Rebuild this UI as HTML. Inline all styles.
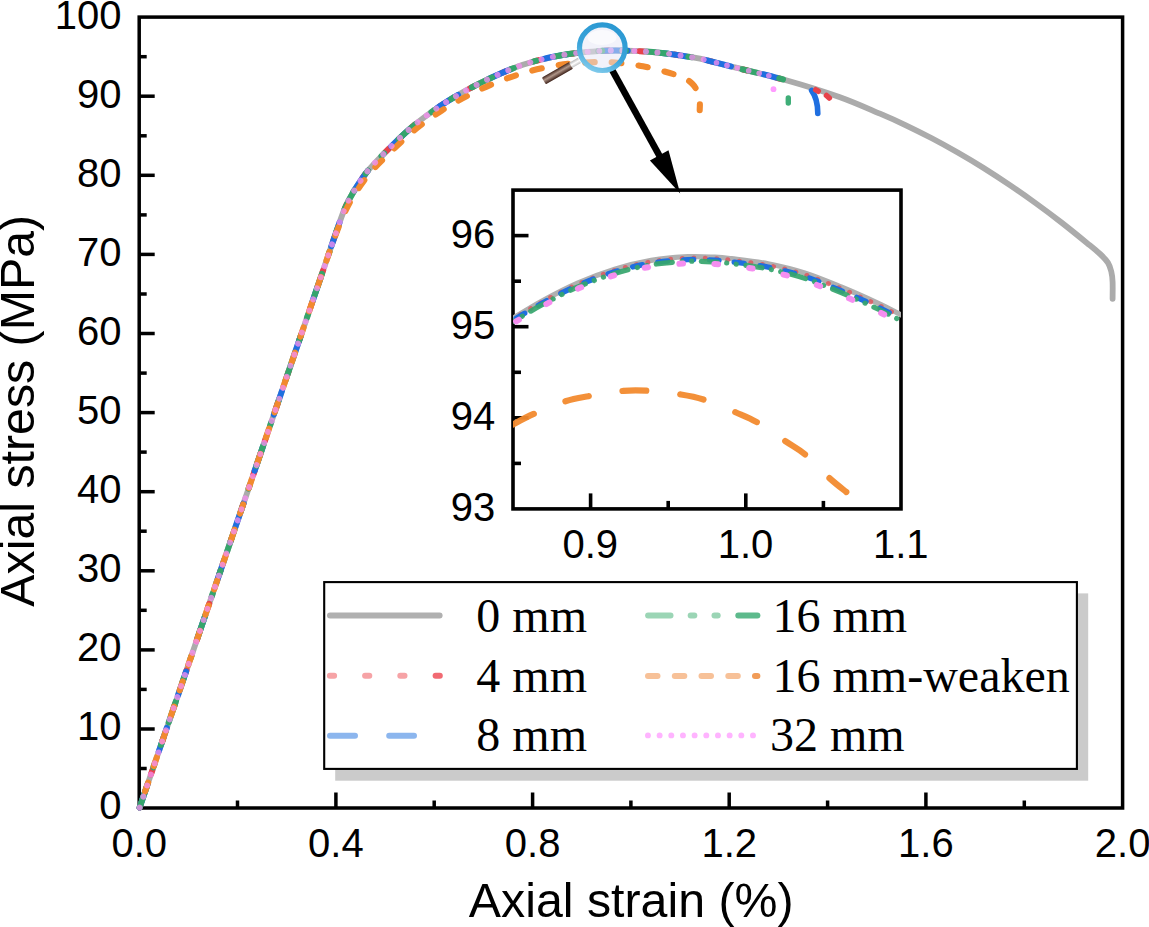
<!DOCTYPE html>
<html><head><meta charset="utf-8"><title>Axial stress-strain</title>
<style>html,body{margin:0;padding:0;background:#fff;}svg{display:block;}text{font-family:"Liberation Sans",sans-serif;fill:#000;}.ser{font-family:"Liberation Serif",serif;}</style></head>
<body>
<svg width="1149" height="927" viewBox="0 0 1149 927">
<rect width="1149" height="927" fill="#fff"/>
<defs><clipPath id="mc"><rect x="135.2" y="17.1" width="987.4" height="794.9"/></clipPath>
<clipPath id="ic"><rect x="513.0" y="190.1" width="388.0" height="318.8"/></clipPath>
<linearGradient id="hg" x1="0" y1="0" x2="0" y2="1"><stop offset="0" stop-color="#40241b"/><stop offset="0.45" stop-color="#b09689"/><stop offset="1" stop-color="#3c2018"/></linearGradient>
<linearGradient id="ng" x1="0" y1="0" x2="0" y2="1"><stop offset="0" stop-color="#b8b8b8"/><stop offset="0.5" stop-color="#ffffff"/><stop offset="1" stop-color="#c0c0c0"/></linearGradient>
<linearGradient id="rg" x1="0.7" y1="0" x2="0.3" y2="1"><stop offset="0" stop-color="#2a98d2"/><stop offset="0.6" stop-color="#3aa4da"/><stop offset="1" stop-color="#7cc8ea"/></linearGradient>
</defs>
<g stroke="#000" stroke-width="3.5" fill="none" stroke-linecap="butt">
<rect x="139.2" y="17.1" width="983.4" height="790.9"/>
<path d="M139.2 768.5 h7.5"/>
<path d="M139.2 729.0 h15.5"/>
<path d="M139.2 689.4 h7.5"/>
<path d="M139.2 649.9 h15.5"/>
<path d="M139.2 610.3 h7.5"/>
<path d="M139.2 570.8 h15.5"/>
<path d="M139.2 531.2 h7.5"/>
<path d="M139.2 491.7 h15.5"/>
<path d="M139.2 452.1 h7.5"/>
<path d="M139.2 412.6 h15.5"/>
<path d="M139.2 373.1 h7.5"/>
<path d="M139.2 333.5 h15.5"/>
<path d="M139.2 294.0 h7.5"/>
<path d="M139.2 254.4 h15.5"/>
<path d="M139.2 214.9 h7.5"/>
<path d="M139.2 175.3 h15.5"/>
<path d="M139.2 135.8 h7.5"/>
<path d="M139.2 96.2 h15.5"/>
<path d="M139.2 56.7 h7.5"/>
<path d="M237.5 808.0 v-7.5"/>
<path d="M335.9 808.0 v-15.5"/>
<path d="M434.2 808.0 v-7.5"/>
<path d="M532.6 808.0 v-15.5"/>
<path d="M630.9 808.0 v-7.5"/>
<path d="M729.2 808.0 v-15.5"/>
<path d="M827.6 808.0 v-7.5"/>
<path d="M925.9 808.0 v-15.5"/>
<path d="M1024.3 808.0 v-7.5"/>
</g>
<g fill="none" stroke-linecap="round" stroke-linejoin="round">
<path d="M139.6 807.6 C149.7 778.1 178.3 694.4 200.0 630.8 C221.7 567.2 250.0 484.5 270.0 425.9 C290.0 367.4 309.3 310.8 320.0 279.6 C330.7 248.3 329.9 250.3 334.0 238.6 C338.1 226.9 341.1 217.3 344.4 209.5 C347.7 201.7 349.9 197.8 353.6 191.6 C357.4 185.3 361.9 178.3 366.9 172.0 C371.9 165.7 376.2 161.4 383.6 154.0 C391.0 146.6 402.1 135.4 411.4 127.5 C420.7 119.6 430.0 112.9 439.3 106.6 C448.6 100.3 457.8 95.0 467.1 89.9 C476.4 84.8 485.7 80.2 495.0 76.0 C504.3 71.8 513.5 67.9 522.8 64.8 C532.1 61.7 541.4 59.3 550.7 57.3 C560.0 55.3 570.4 53.8 578.6 52.8 C586.8 51.8 593.8 51.4 600.0 51.0 C606.2 50.6 608.9 50.5 615.6 50.5 C622.3 50.5 632.6 50.8 640.0 51.2 C647.4 51.6 653.3 52.1 660.0 52.8 C666.7 53.5 673.3 54.4 680.0 55.4 C686.7 56.4 690.9 56.7 700.0 58.7 C709.1 60.7 720.3 63.8 734.8 67.4 C749.3 71.0 769.6 75.6 787.0 80.5 C804.4 85.4 823.8 91.5 839.3 97.0 C854.8 102.5 868.9 109.0 880.0 113.7 C891.1 118.4 897.3 121.2 905.9 125.3 C914.5 129.4 923.2 133.8 931.8 138.3 C940.4 142.8 949.1 147.6 957.7 152.5 C966.3 157.4 975.0 162.6 983.6 168.0 C992.2 173.4 1000.9 179.1 1009.5 184.9 C1018.1 190.7 1026.8 196.8 1035.4 203.0 C1044.0 209.2 1052.7 215.7 1061.3 222.4 C1069.9 229.1 1080.7 237.9 1087.2 243.2 C1093.7 248.5 1096.6 250.8 1100.1 254.0 C1103.5 257.2 1106.0 259.7 1107.9 262.6 C1109.8 265.5 1110.5 268.4 1111.3 271.6 C1112.1 274.8 1112.4 277.5 1112.6 282.0 C1112.8 286.5 1112.6 296.0 1112.6 298.8" stroke="#ababab" stroke-width="5.8"/>
<path d="M139.6 807.6 C149.7 778.1 178.3 694.4 200.0 630.8 C221.7 567.2 250.0 484.5 270.0 425.9 C290.0 367.4 309.3 310.8 320.0 279.6 C330.7 248.3 329.9 250.3 334.0 238.6 C338.1 226.9 341.1 217.3 344.4 209.5 C347.7 201.7 349.9 197.8 353.6 191.6 C357.4 185.3 361.9 178.3 366.9 172.0 C371.9 165.7 376.2 161.4 383.6 154.0 C391.0 146.6 402.1 135.4 411.4 127.5 C420.7 119.6 430.0 112.9 439.3 106.6 C448.6 100.3 457.8 95.0 467.1 89.9 C476.4 84.8 485.7 80.2 495.0 76.0 C504.3 71.8 513.5 67.9 522.8 64.8 C532.1 61.7 541.4 59.3 550.7 57.3 C560.0 55.3 570.4 53.8 578.6 52.8 C586.8 51.8 593.8 51.4 600.0 51.0 C606.2 50.6 608.9 50.5 615.6 50.5 C622.3 50.5 632.6 50.8 640.0 51.2 C647.4 51.6 653.3 52.1 660.0 52.8 C666.7 53.5 673.3 54.4 680.0 55.4 C686.7 56.4 690.9 56.7 700.0 58.7 C709.1 60.7 720.3 63.8 734.8 67.4 C749.3 71.0 778.3 78.3 787.0 80.5" stroke="#e8424a" stroke-width="6" stroke-dasharray="4.2 31"/>
<path d="M139.6 807.6 C149.7 778.1 178.3 694.4 200.0 630.8 C221.7 567.2 250.0 484.5 270.0 425.9 C290.0 367.4 309.3 310.8 320.0 279.6 C330.7 248.3 329.9 250.3 334.0 238.6 C338.1 226.9 341.1 217.3 344.4 209.5 C347.7 201.7 349.9 197.8 353.6 191.6 C357.4 185.3 361.9 178.3 366.9 172.0 C371.9 165.7 376.2 161.4 383.6 154.0 C391.0 146.6 402.1 135.4 411.4 127.5 C420.7 119.6 430.0 112.9 439.3 106.6 C448.6 100.3 457.8 95.0 467.1 89.9 C476.4 84.8 485.7 80.2 495.0 76.0 C504.3 71.8 513.5 67.9 522.8 64.8 C532.1 61.7 541.4 59.3 550.7 57.3 C560.0 55.3 570.4 53.8 578.6 52.8 C586.8 51.8 593.8 51.4 600.0 51.0 C606.2 50.6 608.9 50.5 615.6 50.5 C622.3 50.5 632.6 50.8 640.0 51.2 C647.4 51.6 653.3 52.1 660.0 52.8 C666.7 53.5 673.3 54.4 680.0 55.4 C686.7 56.4 695.7 57.9 700.0 58.7 C704.3 59.5 705.0 59.9 706.0 60.1" stroke="#1f6fe0" stroke-width="6" stroke-dasharray="25.1 34.2"/>
<path d="M139.6 807.6 C149.7 778.1 178.3 694.4 200.0 630.8 C221.7 567.2 250.0 484.5 270.0 425.9 C290.0 367.4 309.3 310.8 320.0 279.6 C330.7 248.3 329.9 250.3 334.0 238.6 C338.1 226.9 341.1 217.3 344.4 209.5 C347.7 201.7 349.9 197.8 353.6 191.6 C357.4 185.3 361.9 178.3 366.9 172.0 C371.9 165.7 376.2 161.4 383.6 154.0 C391.0 146.6 402.1 135.4 411.4 127.5 C420.7 119.6 430.0 112.9 439.3 106.6 C448.6 100.3 457.8 95.0 467.1 89.9 C476.4 84.8 485.7 80.2 495.0 76.0 C504.3 71.8 513.5 67.9 522.8 64.8 C532.1 61.7 541.4 59.3 550.7 57.3 C560.0 55.3 570.4 53.8 578.6 52.8 C586.8 51.8 593.8 51.4 600.0 51.0 C606.2 50.6 608.9 50.5 615.6 50.5 C622.3 50.5 632.6 50.8 640.0 51.2 C647.4 51.6 653.3 52.1 660.0 52.8 C666.7 53.5 673.3 54.4 680.0 55.4 C686.7 56.4 695.7 57.9 700.0 58.7 C704.3 59.5 705.0 59.9 706.0 60.1" stroke="#35a56c" stroke-width="6" stroke-dasharray="22.4 20.2 3.6 20.2 3.6 20.2"/>
<path d="M706.0 60.1 L710.0 61.1 L714.0 62.1 L718.0 63.1 L722.0 64.1 L726.0 65.2 L730.0 66.2 L731.0 66.4" stroke="#1f6fe0" stroke-width="6.0"/>
<path d="M742.0 69.2 L746.0 70.1 L750.0 71.1 L754.0 72.1 L757.5 72.9" stroke="#35a56c" stroke-width="6.0"/>
<path d="M763.0 74.2 L767.0 75.2 L771.0 76.2 L775.0 77.3 L776.6 77.7" stroke="#1f6fe0" stroke-width="6.0"/>
<path d="M779.3 78.4 L783.0 79.4" stroke="#35a56c" stroke-width="6.0"/>
<path d="M139.6 807.6 C149.7 778.1 178.3 694.4 200.0 630.8 C221.7 567.2 250.0 484.5 270.0 425.9 C290.0 367.4 309.3 310.8 320.0 279.6 C330.7 248.3 330.0 249.9 334.2 238.6 C338.4 227.3 341.8 218.8 345.2 211.5 C348.6 204.2 350.8 200.6 354.6 194.5 C358.5 188.4 363.2 181.2 368.3 175.0 C373.4 168.8 377.8 164.5 385.3 157.2 C392.8 149.9 404.0 138.8 413.4 131.0 C422.8 123.2 432.2 116.7 441.6 110.6 C451.0 104.5 460.4 99.4 469.8 94.6 C479.2 89.8 488.6 85.5 498.0 81.8 C507.4 78.1 516.1 75.0 526.0 72.2 C535.9 69.5 548.4 66.8 557.1 65.3 C565.8 63.8 571.5 63.5 578.0 63.0 C584.5 62.5 590.2 62.2 596.4 62.1 C602.6 62.0 607.2 61.9 615.0 62.6 C622.8 63.3 634.0 64.6 643.0 66.3 C652.0 68.0 662.1 70.8 668.9 72.8 C675.7 74.8 680.1 76.1 684.0 78.0 C687.9 79.9 690.2 81.7 692.5 84.0 C694.8 86.3 696.3 89.2 697.5 92.0 C698.7 94.8 699.3 98.0 699.7 101.0 C700.1 104.0 699.7 108.7 699.7 110.2" stroke="#f28a2e" stroke-width="6.1" stroke-dasharray="9.6 17.1" stroke-dashoffset="9.68"/>
<path d="M139.6 807.6 C149.7 778.1 178.3 694.4 200.0 630.8 C221.7 567.2 250.0 484.5 270.0 425.9 C290.0 367.4 309.3 310.8 320.0 279.6 C330.7 248.3 329.9 250.3 334.0 238.6 C338.1 226.9 341.1 217.3 344.4 209.5 C347.7 201.7 349.9 197.8 353.6 191.6 C357.4 185.3 361.9 178.3 366.9 172.0 C371.9 165.7 376.2 161.4 383.6 154.0 C391.0 146.6 402.1 135.4 411.4 127.5 C420.7 119.6 430.0 112.9 439.3 106.6 C448.6 100.3 457.8 95.0 467.1 89.9 C476.4 84.8 485.7 80.2 495.0 76.0 C504.3 71.8 513.5 67.9 522.8 64.8 C532.1 61.7 541.4 59.3 550.7 57.3 C560.0 55.3 570.4 53.8 578.6 52.8 C586.8 51.8 593.8 51.4 600.0 51.0 C606.2 50.6 608.9 50.5 615.6 50.5 C622.3 50.5 632.6 50.8 640.0 51.2 C647.4 51.6 653.3 52.1 660.0 52.8 C666.7 53.5 673.3 54.4 680.0 55.4 C686.7 56.4 695.7 57.9 700.0 58.7 C704.3 59.5 705.0 59.9 706.0 60.1" stroke="#f58ef0" stroke-width="5.9" stroke-dasharray="0.1 11.57" stroke-opacity="0.78"/>
<circle cx="716.5" cy="62.7" r="2.8" fill="#f58ef0" fill-opacity="0.78" stroke="none"/>
<circle cx="727.0" cy="65.4" r="2.8" fill="#f58ef0" fill-opacity="0.78" stroke="none"/>
<circle cx="737.4" cy="68.0" r="2.8" fill="#f58ef0" fill-opacity="0.78" stroke="none"/>
<circle cx="748.7" cy="70.8" r="2.8" fill="#f58ef0" fill-opacity="0.78" stroke="none"/>
<circle cx="759.2" cy="73.3" r="2.8" fill="#f58ef0" fill-opacity="0.78" stroke="none"/>
<circle cx="768.8" cy="75.7" r="2.8" fill="#f58ef0" fill-opacity="0.78" stroke="none"/>
<circle cx="773.5" cy="89.2" r="2.9" fill="#ff9cff" stroke="none"/>
<path d="M788.3 98 L788.3 103" stroke="#3fae78" stroke-width="5.4"/>
<path d="M811.6 90.5 C815 95 817.8 102 817.8 113.5" stroke="#1f6fe0" stroke-width="5.6"/>
<path d="M815.8 89.8 L818.2 91.2" stroke="#e8424a" stroke-width="5.6"/>
<path d="M826.5 95.5 L829.3 98" stroke="#e8424a" stroke-width="5.6"/>
</g>
<g font-size="40">
<text x="121.6" y="819.4" text-anchor="end">0</text>
<text x="121.6" y="740.4" text-anchor="end">10</text>
<text x="121.6" y="661.3" text-anchor="end">20</text>
<text x="121.6" y="582.2" text-anchor="end">30</text>
<text x="121.6" y="503.1" text-anchor="end">40</text>
<text x="121.6" y="424.0" text-anchor="end">50</text>
<text x="121.6" y="344.9" text-anchor="end">60</text>
<text x="121.6" y="265.8" text-anchor="end">70</text>
<text x="121.6" y="186.7" text-anchor="end">80</text>
<text x="121.6" y="107.6" text-anchor="end">90</text>
<text x="121.6" y="28.5" text-anchor="end">100</text>
<text x="139.2" y="856.9" text-anchor="middle">0.0</text>
<text x="335.9" y="856.9" text-anchor="middle">0.4</text>
<text x="532.6" y="856.9" text-anchor="middle">0.8</text>
<text x="729.2" y="856.9" text-anchor="middle">1.2</text>
<text x="925.9" y="856.9" text-anchor="middle">1.6</text>
<text x="1122.6" y="856.9" text-anchor="middle">2.0</text>
</g>
<text x="631.2" y="917" font-size="48.3" text-anchor="middle">Axial strain (%)</text>
<text transform="translate(34.3 410.8) rotate(-90)" font-size="48.3" text-anchor="middle">Axial stress (MPa)</text>
<rect x="513.0" y="190.1" width="388.0" height="318.8" fill="#fff"/>
<g stroke="#000" stroke-width="3.6" fill="none">
<rect x="513.0" y="190.1" width="388.0" height="318.8"/>
<path d="M513.0 463.4 h8.0"/>
<path d="M513.0 417.8 h15.5"/>
<path d="M513.0 372.3 h8.0"/>
<path d="M513.0 326.7 h15.5"/>
<path d="M513.0 281.2 h8.0"/>
<path d="M513.0 235.6 h15.5"/>
<path d="M590.6 508.9 v-15.5"/>
<path d="M668.2 508.9 v-8.0"/>
<path d="M745.8 508.9 v-15.5"/>
<path d="M823.4 508.9 v-8.0"/>
</g>
<g fill="none" stroke-linecap="round" stroke-linejoin="round" clip-path="url(#ic)">
<path d="M511.0 319.5 C516.1 316.5 530.4 307.4 541.6 301.3 C552.8 295.2 565.9 288.3 578.1 283.0 C590.3 277.7 602.5 273.1 614.7 269.3 C626.9 265.5 639.0 262.5 651.2 260.4 C663.4 258.3 677.2 257.2 687.8 256.7 C698.4 256.2 707.7 256.9 715.0 257.2 C722.3 257.5 722.8 257.6 731.6 258.7 C740.5 259.8 755.9 261.4 768.1 263.8 C780.3 266.2 792.5 269.1 804.7 273.0 C816.9 276.9 829.0 282.0 841.2 287.0 C853.4 292.0 867.8 298.5 877.8 303.1 C887.8 307.7 897.1 312.9 901.0 314.8" stroke="#b0b0b0" stroke-width="5.2"/>
<path d="M511.0 320.5 C516.1 317.5 530.4 308.4 541.6 302.4 C552.8 296.3 565.9 289.5 578.1 284.2 C590.3 278.9 602.5 274.3 614.7 270.6 C626.9 266.8 639.0 263.8 651.2 261.8 C663.4 259.7 677.2 258.7 687.8 258.2 C698.4 257.6 707.7 258.4 715.0 258.7 C722.3 259.1 722.8 259.1 731.6 260.3 C740.5 261.4 755.9 263.0 768.1 265.5 C780.3 267.9 792.5 270.9 804.7 274.8 C816.9 278.7 829.0 283.8 841.2 288.8 C853.4 293.9 867.8 300.4 877.8 305.0 C887.8 309.7 897.1 314.8 901.0 316.8" stroke="#e0525a" stroke-width="5" stroke-dasharray="0.1 11.4" stroke-opacity="0.8"/>
<path d="M511.0 321.5 C516.1 318.5 530.4 309.5 541.6 303.5 C552.8 297.4 565.9 290.6 578.1 285.3 C590.3 280.1 602.5 275.5 614.7 271.8 C626.9 268.1 639.0 265.2 651.2 263.1 C663.4 261.1 677.2 260.1 687.8 259.6 C698.4 259.1 707.7 259.9 715.0 260.2 C722.3 260.6 722.8 260.7 731.6 261.8 C740.5 263.0 755.9 264.7 768.1 267.1 C780.3 269.6 792.5 272.6 804.7 276.5 C816.9 280.4 829.0 285.6 841.2 290.7 C853.4 295.8 867.8 302.3 877.8 307.0 C887.8 311.7 897.1 316.8 901.0 318.8" stroke="#1f6fe0" stroke-width="5.4" stroke-dasharray="10 15.6" stroke-dashoffset="-6"/>
<path d="M511.0 323.0 C516.1 320.0 530.4 311.0 541.6 305.0 C552.8 299.0 565.9 292.2 578.1 286.9 C590.3 281.7 602.5 277.2 614.7 273.5 C626.9 269.8 639.0 266.8 651.2 264.8 C663.4 262.8 677.2 261.8 687.8 261.3 C698.4 260.9 707.7 261.6 715.0 262.0 C722.3 262.4 722.8 262.5 731.6 263.6 C740.5 264.8 755.9 266.5 768.1 268.9 C780.3 271.4 792.5 274.4 804.7 278.4 C816.9 282.3 829.0 287.5 841.2 292.6 C853.4 297.7 867.8 304.3 877.8 309.0 C887.8 313.6 897.1 318.8 901.0 320.8" stroke="#35a56c" stroke-width="5.2" stroke-dasharray="16 9.6 0.1 9.6 0.1 9.6" stroke-dashoffset="22" stroke-opacity="0.92"/>
<path d="M511.0 324.5 C516.1 321.5 530.4 312.6 541.6 306.6 C552.8 300.6 565.9 293.8 578.1 288.6 C590.3 283.4 602.5 278.9 614.7 275.2 C626.9 271.6 639.0 268.6 651.2 266.7 C663.4 264.7 677.2 263.7 687.8 263.3 C698.4 262.8 707.7 263.6 715.0 264.0 C722.3 264.4 722.8 264.5 731.6 265.7 C740.5 266.9 755.9 268.6 768.1 271.1 C780.3 273.6 792.5 276.7 804.7 280.6 C816.9 284.6 829.0 289.8 841.2 295.0 C853.4 300.1 867.8 306.7 877.8 311.4 C887.8 316.1 897.1 321.3 901.0 323.3" stroke="#f58ef0" stroke-width="6" stroke-dasharray="3.5 31.5" stroke-dashoffset="-6"/>
<path d="M512.4 424.7 C516.0 422.9 524.9 417.8 533.7 413.9 C542.5 410.0 555.9 404.3 565.0 401.4 C574.1 398.4 578.9 397.9 588.6 396.2 C598.3 394.4 613.5 391.8 623.3 390.9 C633.1 390.0 638.0 390.2 647.6 390.8 C657.2 391.4 671.5 393.0 681.0 394.5 C690.5 396.0 695.1 396.8 704.3 399.8 C713.5 402.8 727.2 408.7 736.1 412.5 C745.0 416.3 749.4 417.8 757.7 422.6 C766.0 427.4 777.8 436.0 785.7 441.4 C793.7 446.8 798.1 448.6 805.4 454.7 C812.6 460.8 822.4 471.7 829.2 477.9 C836.0 484.1 843.4 489.6 846.3 492.0" stroke="#f28a2e" stroke-width="6.2" stroke-dasharray="24 34" stroke-opacity="0.95"/>
</g>
<g font-size="40">
<text x="495.3" y="521.3" text-anchor="end">93</text>
<text x="495.3" y="430.2" text-anchor="end">94</text>
<text x="495.3" y="339.1" text-anchor="end">95</text>
<text x="495.3" y="248.0" text-anchor="end">96</text>
<text x="590.3" y="557.5" text-anchor="middle">0.9</text>
<text x="745.5" y="557.5" text-anchor="middle">1.0</text>
<text x="900.7" y="557.5" text-anchor="middle">1.1</text>
</g>
<path d="M612.2 70.2 L660.2 157.2" stroke="#000" stroke-width="6.6" fill="none"/>
<path d="M680.2 193.5 L649.9 160.5 L668.5 150.3 Z" fill="#000"/>
<g transform="translate(543.8 81.0) rotate(-30.0)">
<rect x="0" y="-3.9" width="31.6" height="7.8" rx="1.2" fill="url(#hg)"/>
<rect x="31.1" y="-3" width="10" height="6" fill="url(#ng)"/>
</g>
<circle cx="602.3" cy="47.7" r="22.8" fill="#e6e6f5" fill-opacity="0.52"/>
<ellipse cx="602" cy="37.5" rx="14.5" ry="7.5" fill="#fff" fill-opacity="0.6"/>
<circle cx="602.3" cy="47.7" r="22.8" fill="none" stroke="url(#rg)" stroke-width="5.2"/>
<rect x="335.2" y="593.4" width="753" height="187.3" fill="#cbcbcb"/>
<rect x="324.2" y="582.1" width="752.7" height="186.8" fill="#fff" stroke="#000" stroke-width="2.1"/>
<g fill="none" stroke-linecap="round" stroke-width="6">
<path d="M330 615.6 H439.6" stroke="#b0b0b0"/>
<path d="M334.1 675.7 h-4.2" stroke="#f6a3a6" />
<path d="M369.3 675.7 h-4.2" stroke="#f6a3a6" />
<path d="M404.5 675.7 h-4.2" stroke="#f6a3a6" />
<path d="M439.8 675.7 h-4.2" stroke="#f16a72" />
<path d="M330 735.7 H355" stroke="#8cb6ee"/>
<path d="M389.2 735.7 H414" stroke="#8cb6ee"/>
<path d="M648.1 615.5 H670.5" stroke="#9bd5b5"/>
<path d="M690.7 615.5 H694.3" stroke="#9bd5b5"/>
<path d="M714.5 615.5 H717.7" stroke="#9bd5b5"/>
<path d="M738.3 615.5 H757.4" stroke="#5dba8c"/>
<path d="M648.0 676.1 h9.5" stroke="#f7c198"/>
<path d="M674.8 676.1 h9.5" stroke="#f7c198"/>
<path d="M701.5 676.1 h9.5" stroke="#f7c198"/>
<path d="M728.3 676.1 h9.5" stroke="#f7c198"/>
<path d="M755 676.1 h2.4" stroke="#f19c58"/>
<path d="M647.90 735.4 h0.1" stroke="#ffb4ff" stroke-width="5.8"/>
<path d="M659.57 735.4 h0.1" stroke="#ffb4ff" stroke-width="5.8"/>
<path d="M671.24 735.4 h0.1" stroke="#ffb4ff" stroke-width="5.8"/>
<path d="M682.91 735.4 h0.1" stroke="#ffb4ff" stroke-width="5.8"/>
<path d="M694.58 735.4 h0.1" stroke="#ffb4ff" stroke-width="5.8"/>
<path d="M706.25 735.4 h0.1" stroke="#ffb4ff" stroke-width="5.8"/>
<path d="M717.92 735.4 h0.1" stroke="#ffb4ff" stroke-width="5.8"/>
<path d="M729.59 735.4 h0.1" stroke="#ffb4ff" stroke-width="5.8"/>
<path d="M741.26 735.4 h0.1" stroke="#ffb4ff" stroke-width="5.8"/>
<path d="M752.93 735.4 h0.1" stroke="#ffb4ff" stroke-width="5.8"/>
</g>
<g class="ser" font-size="48">
<text class="ser" x="476.3" y="632.2">0 mm</text>
<text class="ser" x="476.3" y="692">4 mm</text>
<text class="ser" x="476.3" y="751.3">8 mm</text>
<text class="ser" x="772.5" y="632.2">16 mm</text>
<text class="ser" x="772.5" y="692">16 mm-weaken</text>
<text class="ser" x="770" y="751.3">32 mm</text>
</g>
</svg>
</body></html>
